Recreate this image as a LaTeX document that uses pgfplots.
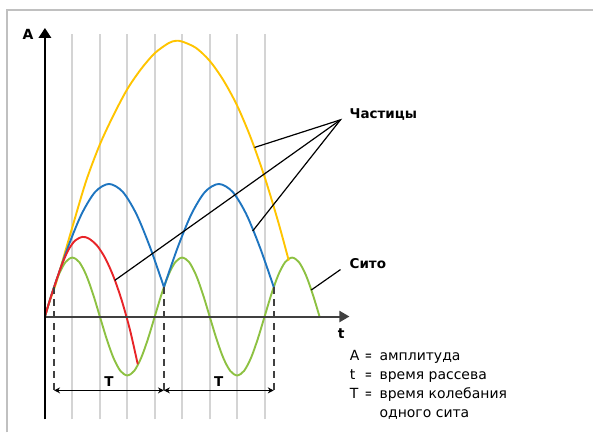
\documentclass[border=0pt]{standalone}
\usepackage{pgfplots}
\pgfplotsset{compat=1.18}
\usetikzlibrary{arrows.meta}
\usepackage{fontspec}
\setmainfont{DejaVu Sans}
\definecolor{cgreen}{RGB}{141,193,66}
\definecolor{cblue}{RGB}{30,117,192}
\definecolor{cred}{RGB}{232,36,40}
\definecolor{cyellow}{RGB}{255,196,0}
\definecolor{cgrid}{RGB}{212,212,212}
\definecolor{cframe}{RGB}{192,192,192}
\definecolor{cdark}{RGB}{64,64,64}
\begin{document}
\begin{tikzpicture}
\begin{axis}[scale only axis, width=594bp, height=433bp,
  xmin=-1.63636, xmax=19.96364, ymin=-1.96610, ymax=5.37288,
  hide axis, clip=false]
\path (rel axis cs:0,0) rectangle (rel axis cs:1,1);
% frame
\draw[cframe, line width=1.8bp] (-1.382,-1.9661) -- (-1.382,5.203) -- (19.9636,5.203);
% grid lines
\foreach \k in {1,...,8} {
  \edef\tmp{\noexpand\draw[cgrid, line width=2bp] (\k,-1.746) -- (\k,4.797);}
  \tmp
}
% curves
\addplot[cgreen, line width=1.9bp, smooth] coordinates {
(0,0) (0.25,0.3827) (0.5,0.7071) (0.75,0.9239) (1,1) (1.25,0.9239) (1.5,0.7071) (1.75,0.3827)
(2,0) (2.25,-0.3827) (2.5,-0.7071) (2.75,-0.9239) (3,-1) (3.25,-0.9239) (3.5,-0.7071) (3.75,-0.3827)
(4,0) (4.25,0.3827) (4.5,0.7071) (4.75,0.9239) (5,1) (5.25,0.9239) (5.5,0.7071) (5.75,0.3827)
(6,0) (6.25,-0.3827) (6.5,-0.7071) (6.75,-0.9239) (7,-1) (7.25,-0.9239) (7.5,-0.7071) (7.75,-0.3827)
(8,0) (8.25,0.3827) (8.5,0.7071) (8.75,0.9239) (9,1) (9.25,0.9239) (9.5,0.7071) (9.75,0.3827) (10,0)};
\addplot[cyellow, line width=1.9bp, smooth] coordinates {
(0,0) (0.2,0.30) (0.4,0.56) (1.0,1.52) (1.5,2.30) (2.0,2.92) (2.5,3.42) (3.0,3.86) (3.5,4.20)
(4.0,4.47) (4.5,4.64) (4.76,4.68) (5.0,4.667) (5.5,4.56) (6.0,4.34) (6.5,4.01) (7.0,3.58)
(7.5,3.03) (8.0,2.37) (8.5,1.60) (8.88,0.95)};
\addplot[cblue, line width=1.9bp, smooth] coordinates {
(0,0) (0.1667,0.2588) (0.3333,0.5) (0.8333,1.170) (1.3333,1.737) (1.8333,2.117) (2.3333,2.25)
(2.8333,2.117) (3.3333,1.737) (3.8333,1.170) (4.3333,0.5)};
\addplot[cblue, line width=1.9bp, smooth] coordinates {
(4.3333,0.5) (4.8333,1.170) (5.3333,1.737) (5.8333,2.117) (6.3333,2.25)
(6.8333,2.117) (7.3333,1.737) (7.8333,1.170) (8.3333,0.5)};
\addplot[cred, line width=1.9bp, smooth] coordinates {
(0,0) (0.1667,0.2588) (0.3333,0.5) (0.6,0.858) (0.85,1.126) (1.1,1.29) (1.371,1.351)
(1.6,1.323) (1.9,1.203) (2.2,0.987) (2.5,0.675) (2.8,0.269) (3.1,-0.233) (3.38,-0.81)};
% axes
\draw[cdark, line width=2bp, -{Triangle[length=10bp,width=11bp]}] (0,0) -- (11.09,0);
\draw[black, line width=1.8bp, -{Triangle[length=10bp,width=12.5bp]}] (0,-1.746) -- (0,4.898);
\node[font=\bfseries\fontsize{14bp}{14bp}\selectfont] at (-0.618,4.797) {A};
\node[font=\bfseries\fontsize{14bp}{14bp}\selectfont] at (10.787,-0.288) {t};
% dashed
\foreach \xx in {0.3333,4.3333,8.3333} {
  \edef\tmp{\noexpand\draw[cdark, line width=1.8bp, dash pattern=on 7bp off 5bp] (\xx,0.5) -- (\xx,-1.288);}
  \tmp
}
\draw[black, line width=1.3bp, {Stealth[length=6bp,width=6bp]}-{Stealth[length=6bp,width=6bp]}] (0.3333,-1.254) -- (4.3333,-1.254);
\draw[black, line width=1.3bp, {Stealth[length=6bp,width=6bp]}-{Stealth[length=6bp,width=6bp]}] (4.3333,-1.254) -- (8.3333,-1.254);
\node[font=\bfseries\fontsize{13.5bp}{13.5bp}\selectfont] at (2.333,-1.10) {T};
\node[font=\bfseries\fontsize{13.5bp}{13.5bp}\selectfont] at (6.333,-1.10) {T};
% annotations
\draw[black, line width=1.2bp] (7.636,2.87) -- (10.764,3.339) -- (7.564,1.45);
\draw[black, line width=1.2bp] (10.764,3.339) -- (2.545,0.614);
\node[anchor=west, inner sep=0pt, font=\bfseries\fontsize{13.5bp}{13.5bp}\selectfont] at (11.09,3.424) {Частицы};
\draw[black, line width=1.2bp] (10.764,0.797) -- (9.70,0.45);
\node[anchor=west, inner sep=0pt, font=\bfseries\fontsize{13.5bp}{13.5bp}\selectfont] at (11.09,0.898) {Сито};
% legend text
\begin{scope}[every node/.style={anchor=base west, inner sep=0pt, font=\fontsize{14bp}{14bp}\selectfont}]
\node at (11.10,-0.746) {A};
\node at (11.10,-1.076) {t};
\node at (11.10,-1.398) {T};
\node[anchor=base, xscale=0.62] at (11.78,-0.746) {=};
\node[anchor=base, xscale=0.62] at (11.78,-1.076) {=};
\node[anchor=base, xscale=0.62] at (11.78,-1.398) {=};
\node at (12.18,-0.746) {амплитуда};
\node at (12.18,-1.076) {время рассева};
\node at (12.18,-1.398) {время колебания};
\node at (12.18,-1.720) {одного сита};
\end{scope}
\end{axis}
\end{tikzpicture}
\end{document}
